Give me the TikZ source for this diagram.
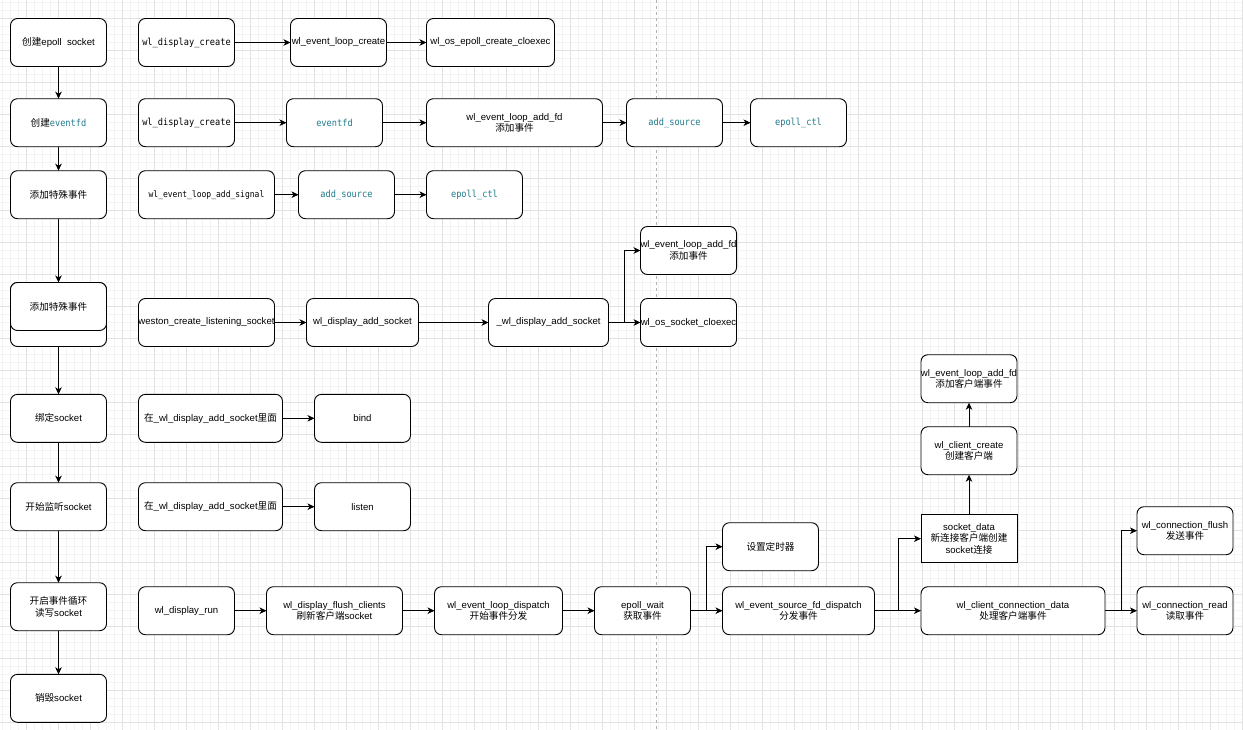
\documentclass[tikz,border=0pt]{standalone}
\usepackage{fontspec}
\setmainfont{Liberation Sans}
\newfontfamily\cjk{Noto Sans CJK SC}
\newfontfamily\mono[FakeStretch=0.9]{DejaVu Sans Mono}
\usepackage{xcolor}
\usepackage{tikz}
\usetikzlibrary{arrows.meta,positioning}

\definecolor{fdteal}{HTML}{1F7A8C}
\definecolor{gridmaj}{HTML}{E2E2E2}
\definecolor{gridmin}{HTML}{F4F4F4}
\newcommand{\zhtxt}[1]{{\cjk #1}}
\newcommand{\monotxt}[1]{{\mono\fontsize{9.6}{11.5}\selectfont #1}}
\newcommand{\tealtxt}[1]{{\mono\fontsize{9.6}{11.5}\selectfont\color{fdteal}#1}}

\begin{document}
\begin{tikzpicture}[->,>={Stealth[length=7pt,width=6.5pt,inset=2pt]},x=1pt,y=1pt,
    line width=0.9pt,
    func/.style={draw,fill=white,rounded corners=7pt,minimum width=96pt,
        minimum height=48pt,align=center,inner sep=0pt,outer sep=0pt,
        font=\fontsize{9.6}{11.5}\selectfont},
    plain/.style={func,rounded corners=0pt}]

% canvas with grid and page break
\useasboundingbox (0,0) rectangle (1243,-729);
\fill[white] (0,0) rectangle (1243,-729);
\begin{scope}
\clip (0,0) rectangle (1243,-729);
\draw[-,gridmin,line width=0.6pt,shift={(2,-2)},step=8pt] (-8,8) grid (1248,-736);
\draw[-,gridmaj,line width=0.8pt,shift={(26,-18)},step=32pt] (-32,32) grid (1248,-736);
\end{scope}
\draw[-,black!30,line width=0.7pt,dash pattern=on 3pt off 3pt] (656.5,0) -- (656.5,-729);

% steps
\node[func] (S_1) at (58.5,-42.5) {\zhtxt{创建}epoll~~socket};
\node[func] (S_2) at (58.5,-122.7) {\zhtxt{创建}\tealtxt{eventfd}};
\node[func] (S_3) at (58.5,-194.7) {\zhtxt{添加特殊事件}};
\node[func,minimum height=64pt] (S_4b) at (58.5,-314.5) {};
\node[func] (S_4) at (58.5,-306.5) {\zhtxt{添加特殊事件}};
\node[func] (S_5) at (58.5,-418.3) {\zhtxt{绑定}socket};
\node[func] (S_6) at (58.5,-506.7) {\zhtxt{开始监听}socket};
\node[func] (S_7) at (58.5,-606.7) {\zhtxt{开启事件循环}\\\zhtxt{读写}socket};
\node[func] (S_8) at (58.5,-698.3) {\zhtxt{销毁}socket};

% epoll
\node[func] (D_1) at (186.5,-42.5) {\monotxt{wl\_display\_create}};
\node[func] (L_1) [right=56pt of D_1] {wl\_event\_loop\_create};
\node[func,minimum width=128pt] (E_1) [right=40pt of L_1] {wl\_os\_epoll\_create\_cloexec};

% eventfd
\node[func] (D_2) at (186.5,-122.7) {\monotxt{wl\_display\_create}};
\node[func] (F_2) [right=52pt of D_2] {\tealtxt{eventfd}};
\node[func,minimum width=176pt] (A_2) [right=44pt of F_2] {wl\_event\_loop\_add\_fd\\\zhtxt{添加事件}};
\node[func] (R_2) [right=24pt of A_2] {\tealtxt{add\_source}};
\node[func] (C_2) [right=28pt of R_2] {\tealtxt{epoll\_ctl}};

% signal
\node[func,minimum width=136pt] (G_3) at (206.5,-194.7)
    {{\mono\fontsize{8.9}{10}\selectfont wl\_event\_loop\_add\_signal}};
\node[func] (R_3) [right=24pt of G_3] {\tealtxt{add\_source}};
\node[func] (C_3) [right=32pt of R_3] {\tealtxt{epoll\_ctl}};

% socket
\node[func,minimum width=136pt] (W_4) at (206.5,-322.5) {weston\_create\_listening\_socket};
\node[func,minimum width=112pt] (K_4) [right=32pt of W_4] {wl\_display\_add\_socket};
\node[func,minimum width=120pt] (U_4) [right=70pt of K_4] {\_wl\_display\_add\_socket};
\node[func] (O_4) [right=32pt of U_4] {wl\_os\_socket\_cloexec};
\node[func] (A_4) [above=24pt of O_4] {wl\_event\_loop\_add\_fd\\\zhtxt{添加事件}};

% bind, listen
\node[func,minimum width=144pt] (I_5) at (210.5,-418.3) {\zhtxt{在}\_wl\_display\_add\_socket\zhtxt{里面}};
\node[func] (B_5) [right=32pt of I_5] {bind};
\node[func,minimum width=144pt] (I_6) at (210.5,-506.7) {\zhtxt{在}\_wl\_display\_add\_socket\zhtxt{里面}};
\node[func] (N_6) [right=32pt of I_6] {listen};

% event loop
\node[func] (R_7) at (186.5,-610.7) {wl\_display\_run};
\node[func,minimum width=136pt] (F_7) [right=32pt of R_7] {wl\_display\_flush\_clients\\\zhtxt{刷新客户端}socket};
\node[func,minimum width=128pt] (P_7) [right=32pt of F_7] {wl\_event\_loop\_dispatch\\\zhtxt{开始事件分发}};
\node[func] (W_7) [right=32pt of P_7] {epoll\_wait\\\zhtxt{获取事件}};
\node[func,minimum width=152pt] (X_7) [right=32pt of W_7] {wl\_event\_source\_fd\_dispatch\\\zhtxt{分发事件}};
\node[func] (T_7) [above right=16pt and 0pt of X_7.north west] {\zhtxt{设置定时器}};
\node[func,minimum width=184pt] (Y_7) [right=46.5pt of X_7] {wl\_client\_connection\_data\\\zhtxt{处理客户端事件}};
\node[plain] (Z_7) [above right=24pt and 0pt of Y_7.north west]
    {socket\_data\\\zhtxt{新连接客户端创建}\\socket\zhtxt{连接}};
\node[func] (Q_7) [above=40pt of Z_7] {wl\_client\_create\\\zhtxt{创建客户端}};
\node[func] (H_7) [above=24pt of Q_7] {wl\_event\_loop\_add\_fd\\\zhtxt{添加客户端事件}};
\node[func] (V_7) [right=32pt of Y_7] {wl\_connection\_read\\\zhtxt{读取事件}};
\node[func] (M_7) [above=32pt of V_7] {wl\_connection\_flush\\\zhtxt{发送事件}};

\path
    (S_1) edge (S_2)
    (S_2) edge (S_3)
    (S_3) edge (S_4)
    (S_4b) edge (S_5)
    (S_5) edge (S_6)
    (S_6) edge (S_7)
    (S_7) edge (S_8);

\path
    (D_1) edge (L_1)
    (L_1) edge (E_1)
    (D_2) edge (F_2)
    (F_2) edge (A_2)
    (A_2) edge (R_2)
    (R_2) edge (C_2)
    (G_3) edge (R_3)
    (R_3) edge (C_3)
    (W_4) edge (K_4)
    (K_4) edge (U_4)
    (U_4) edge (O_4)
    (I_5) edge (B_5)
    (I_6) edge (N_6);

\path
    (R_7) edge (F_7)
    (F_7) edge (P_7)
    (P_7) edge (W_7)
    (W_7) edge (X_7)
    (X_7) edge (Y_7)
    (Y_7) edge (V_7)
    (Z_7) edge (Q_7)
    (Q_7) edge (H_7);

\draw (U_4.east) -- ++(16,0) |- (A_4);
\draw (W_7.east) -- ++(15.5,0) |- (T_7);
\draw (X_7.east) -- ++(24,0) |- (Z_7);
\draw (Y_7.east) -- ++(16,0) |- (M_7);

\end{tikzpicture}
\end{document}
